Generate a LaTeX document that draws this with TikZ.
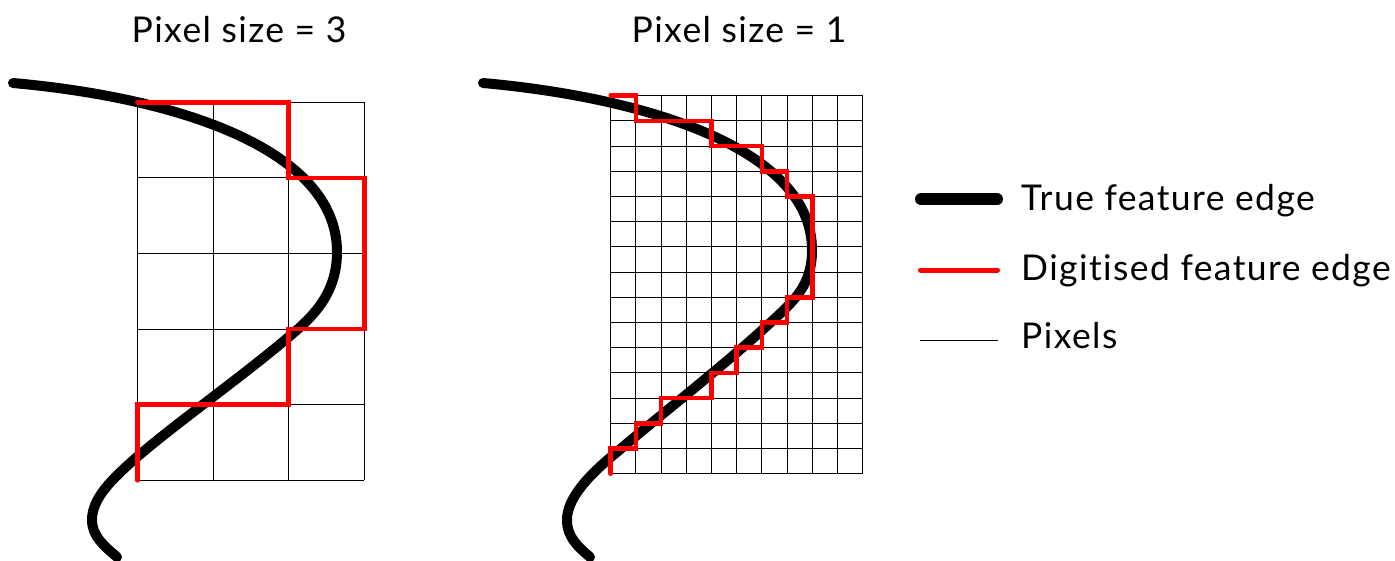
\documentclass[tikz,border=0pt]{standalone}
\usepackage{fontspec}
\setmainfont{Lato}[LetterSpace=4, Ligatures={NoCommon, NoRare}]
\definecolor{digred}{RGB}{255,0,0}
\begin{document}
\begin{tikzpicture}[x=1pt,y=-1pt,
  gridline/.style={line width=1.1pt, black},
  digit/.style={digred, line width=4.6pt, line cap=round, line join=miter},
  truecurve/.style={line width=10pt, line cap=round, black},
  lbl/.style={font=\fontsize{35.5}{40}\selectfont, inner sep=0pt, text=black}]
\useasboundingbox (0,0) rectangle (1395,560);
% titles
\node[lbl, anchor=base] (t3) at (239,42) {Pixel size = 3};
\node[lbl, anchor=base] (t1) at (739,42) {Pixel size = 1};
% left grid
\begin{scope}[shift={(137.5,102.3)}, x=75.6pt, y=-75.6pt]
  \foreach \i in {0,...,3} \draw[gridline] (\i,0) -- (\i,5);
  \foreach \j in {0,...,5} \draw[gridline] (0,\j) -- (3,\j);
\end{scope}
% right grid
\begin{scope}[shift={(610.7,95.7)}, x=25.2pt, y=-25.2pt]
  \foreach \i in {0,...,10} \draw[gridline] (\i,0) -- (\i,15);
  \foreach \j in {0,...,15} \draw[gridline] (0,\j) -- (10,\j);
\end{scope}
% true feature edges
\draw[truecurve] (13,83) .. controls (180,98) and (337,150) .. (337,252)
  .. controls (337,285) and (322,308) .. (298,329)
  .. controls (250,371) and (180,420) .. (137,457)
  .. controls (112,479) and (92,498) .. (92,520)
  .. controls (92,536) and (104,546) .. (117,557);
\draw[truecurve] (483,83) .. controls (650,98) and (812,150) .. (812,250)
  .. controls (812,285) and (795,300) .. (770,323)
  .. controls (720,369) and (660,415) .. (617,452)
  .. controls (585,478) and (567,500) .. (567,520)
  .. controls (567,537) and (578,547) .. (590,557);
% digitised edges
\begin{scope}[shift={(137.5,102.3)}, x=75.6pt, y=-75.6pt]
  \draw[digit] (0,0) -- (2,0) -- (2,1) -- (3,1) -- (3,3) -- (2,3) -- (2,4) -- (0,4) -- (0,5);
\end{scope}
\begin{scope}[shift={(610.7,95.7)}, x=25.2pt, y=-25.2pt]
  \draw[digit] (0,0) -- (1,0) -- (1,1) -- (4,1) -- (4,2) -- (6,2) -- (6,3) -- (7,3) -- (7,4) -- (8,4)
    -- (8,8) -- (7,8) -- (7,9) -- (6,9) -- (6,10) -- (5,10) -- (5,11) -- (4,11) -- (4,12) -- (2,12)
    -- (2,13) -- (1,13) -- (1,14) -- (0,14) -- (0,15);
\end{scope}
% legend
\coordinate (la1) at (921,199.3);
\coordinate (lb1) at (997,199.3);
\coordinate (la2) at (920.5,270);
\coordinate (lb2) at (997.5,270);
\coordinate (la3) at (920,340);
\coordinate (lb3) at (998,340);
\draw[black, line width=12pt, line cap=round] (la1) -- (lb1);
\draw[digred, line width=5pt, line cap=round] (la2) -- (lb2);
\draw[black, line width=0.9pt] (la3) -- (lb3);
\node[lbl, anchor=base west] (l1) at (1021,210) {True feature edge};
\node[lbl, anchor=base west] (l2) at (1021,280) {Digitised feature edge};
\node[lbl, anchor=base west] (l3) at (1021,348) {Pixels};
\end{tikzpicture}
\end{document}
